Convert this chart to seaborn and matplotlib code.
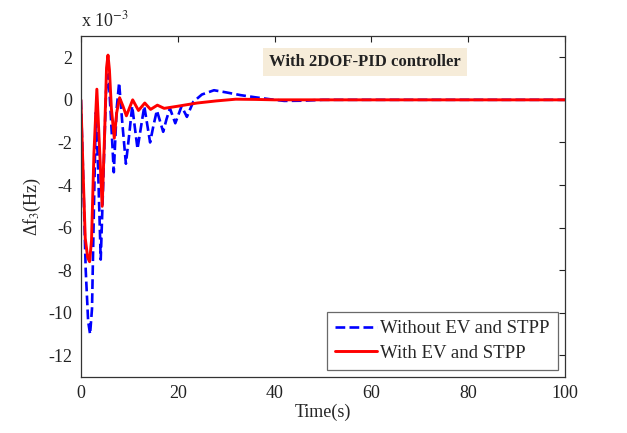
import matplotlib
matplotlib.use("Agg")
import matplotlib.pyplot as plt
import seaborn as sns
import pandas as pd

# Time (s) and frequency deviation (x 10^-3 Hz)
t_without = [0, 0.4, 1.0, 1.5, 1.9, 2.3, 2.7, 3.1, 3.5, 4.1, 4.6, 5.2, 5.7, 6.2, 6.8,
             7.4, 7.9, 8.6, 9.3, 10.0, 10.6, 11.7, 12.4, 13.1, 14.3, 15.0, 15.7, 17.0,
             17.7, 18.4, 19.5, 20.8, 21.9, 23.2, 25.0, 27.5, 30.0, 33.0, 36.0, 39.0,
             42.0, 46.0, 50.0, 60.0, 80.0, 100.0]
v_without = [0, -3.0, -8.0, -10.4, -11.0, -9.8, -5.0, -0.6, -2.8, -7.5, -4.0, 0.4, 1.2,
             -0.8, -3.4, -0.4, 0.8, -1.2, -3.0, -1.6, -0.3, -2.3, -1.3, -0.3, -2.0, -1.2,
             -0.5, -1.5, -0.9, -0.4, -1.1, -0.3, -0.8, -0.1, 0.25, 0.45, 0.35, 0.22,
             0.12, 0.03, -0.05, -0.04, 0.0, 0.0, 0.0, 0.0]

t_with = [0, 0.4, 0.9, 1.4, 1.8, 2.2, 2.7, 3.3, 3.8, 4.4, 4.9, 5.3, 5.6, 5.9, 6.3,
          6.9, 7.4, 8.0, 8.7, 9.4, 10.7, 11.9, 13.2, 14.4, 15.8, 17.2, 20.0, 24.0,
          28.0, 32.0, 36.0, 40.0, 50.0, 60.0, 80.0, 100.0]
v_with = [0, -3.0, -6.5, -7.4, -7.6, -6.6, -2.5, 0.5, -2.0, -5.0, -1.6, 1.5, 2.1, 1.4,
          -0.4, -1.8, -0.6, 0.1, -0.3, -0.75, 0.0, -0.5, -0.15, -0.45, -0.25, -0.4,
          -0.3, -0.15, -0.05, 0.03, 0.02, 0.0, 0.0, 0.0, 0.0, 0.0]

labels = ["Without EV and STPP", "With EV and STPP"]
x_ticks = [0, 20, 40, 60, 80, 100]
y_ticks = [-12, -10, -8, -6, -4, -2, 0, 2]
title_text = "With 2DOF-PID controller"

sns.set_style("white")
plt.rcParams["font.family"] = ["Liberation Serif", "DejaVu Serif"]
plt.rcParams["mathtext.fontset"] = "stix"
plt.rcParams["axes.unicode_minus"] = False

df1 = pd.DataFrame({"t": t_without, "v": v_without})
df2 = pd.DataFrame({"t": t_with, "v": v_with})

fig = plt.figure(figsize=(6.27, 4.33), dpi=100)
ax = fig.add_axes([0.129, 0.130, 0.772, 0.787])

sns.lineplot(data=df1, x="t", y="v", ax=ax, color="#0000ff", linewidth=1.9,
             linestyle="--", dashes=(3, 1.6), label=labels[0],
             dash_joinstyle="round")
sns.lineplot(data=df2, x="t", y="v", ax=ax, color="#ff0000", linewidth=2.1,
             label=labels[1], solid_joinstyle="round")

ax.set_xlim(0, 100)
ax.set_ylim(-13, 3)
ax.set_xticks(x_ticks)
ax.set_yticks(y_ticks)
ax.tick_params(direction="in", length=4, width=0.8, top=True, right=True,
               labelsize=13, colors="#222222", pad=6)
for s in ax.spines.values():
    s.set_color("#333333")
    s.set_linewidth(0.9)

ax.set_xlabel("Time(s)", fontsize=13, labelpad=1)
ax.set_ylabel("\u0394f$_3$(Hz)", fontsize=13, labelpad=4)

ax.text(0.0, 1.015, "x 10$^{-3}$", transform=ax.transAxes, fontsize=13,
        ha="left", va="bottom")

ax.text(58.7, 1.78, title_text, fontsize=12, fontweight="bold", ha="center",
        va="center", color="#222222",
        bbox=dict(boxstyle="square,pad=0.35", facecolor="#f6ecd9", edgecolor="none"))

leg = ax.legend(loc="lower right", fontsize=13.5, frameon=True, fancybox=False,
                edgecolor="#444444", borderpad=0.45, labelspacing=0.4,
                handlelength=2.2, handletextpad=0.2, borderaxespad=0.35)
leg.get_frame().set_linewidth(0.9)

fig.savefig("out.png", dpi=100)
